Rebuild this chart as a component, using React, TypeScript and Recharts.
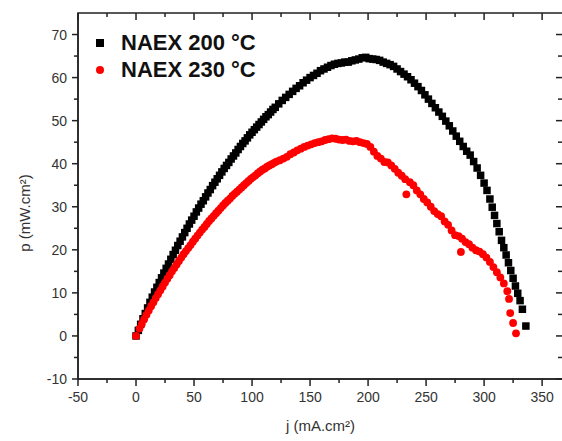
import { ReferenceArea, Scatter, ScatterChart, XAxis, YAxis } from "recharts";

// current density j (mA.cm-2) and power density p (mW.cm-2)
const jBlack = [
  0, 2, 4, 6, 8, 10, 12, 14, 16, 18,
  20, 22, 24, 26, 28, 30, 32, 34, 36, 38,
  40, 42, 44, 46, 48, 50, 52, 54, 56, 58,
  60, 62, 64, 66, 68, 70, 72, 74, 76, 78,
  80, 82, 84, 86, 88, 90, 92, 94, 96, 98,
  100, 102, 104, 106, 108, 110, 112, 114, 116, 118,
  120, 123, 126, 129, 132, 135, 138, 141, 144, 147,
  150, 153, 156, 159, 162, 165, 168, 171, 174, 177,
  180, 183, 186, 189, 192, 195, 198, 201, 204, 207,
  210, 213, 216, 219, 222, 225, 228, 231, 234, 237,
  240, 243, 246, 249, 252, 255, 258, 261, 264, 267,
  270, 273, 276, 279, 282, 285, 288, 291, 294, 297,
  300, 302.5, 305, 307, 309, 311, 313, 315, 317, 319,
  321, 323, 325, 327, 329, 331, 333, 336,
];
const pBlack = [
  0, 1.3, 2.7, 4, 5.2, 6.5, 7.8, 9, 10.2, 11.3,
  12.4, 13.5, 14.6, 15.7, 16.7, 17.8, 18.9, 19.9, 21, 22,
  23, 24, 25, 26, 26.9, 27.8, 28.8, 29.7, 30.6, 31.4,
  32.3, 33.2, 34, 34.9, 35.7, 36.5, 37.3, 38.1, 38.9, 39.6,
  40.3, 41.1, 41.8, 42.5, 43.3, 44, 44.7, 45.3, 46, 46.7,
  47.3, 47.9, 48.5, 49.1, 49.7, 50.3, 50.9, 51.4, 52, 52.6,
  53.1, 53.9, 54.7, 55.4, 56.1, 56.8, 57.5, 58.1, 58.8, 59.4,
  60, 60.5, 61, 61.6, 62, 62.4, 62.8, 63.1, 63.3, 63.4,
  63.6, 63.6, 63.9, 64.1, 64.3, 64.6, 64.7, 64.4, 64.3, 64.2,
  64, 63.6, 63.3, 63, 62.6, 62, 61.4, 60.8, 60.2, 59.5,
  58.7, 57.9, 57, 56, 55, 54, 53, 52, 51, 49.9,
  48.8, 47.6, 46.4, 45.2, 44, 42.9, 42, 40.5, 39, 37.3,
  35.5, 33.8, 31.8, 29.9, 28, 26.1, 24.2, 22.2, 20.5, 18.8,
  17, 15.2, 13.4, 11.6, 9.9, 8.2, 6.2, 2.3,
];

const jRed = [
  0, 3, 5, 7, 9, 11, 13, 15, 17, 19,
  21, 23, 25, 27, 29, 31, 33, 35, 37, 39,
  41, 43, 45, 47, 49, 51, 53, 55, 57, 59,
  61, 63, 65, 67, 69, 71, 73, 75, 77, 79,
  81, 83, 85, 87, 89, 91, 93, 95, 97, 99,
  101, 103, 105, 107, 109, 111, 113, 115, 117, 119,
  121, 124, 127, 130, 133, 136, 139, 142, 145, 148,
  151, 154, 157, 160, 163, 166, 169, 172, 175, 178,
  181, 184, 187, 190, 193, 196, 199, 202, 205, 208,
  211, 214, 217, 220, 223, 226, 229, 232, 233, 236,
  239, 242, 245, 248, 251, 254, 257, 260, 263, 266,
  269, 272, 275, 278, 280, 281, 284, 287, 290, 293,
  296, 299, 302, 305, 308, 311, 314, 317, 320, 321.5,
  322.5, 325, 327.5,
];
const pRed = [
  0, 1.7, 2.8, 3.9, 4.9, 5.9, 6.9, 7.8, 8.8, 9.7,
  10.6, 11.5, 12.4, 13.3, 14.1, 15, 15.8, 16.6, 17.4, 18.2,
  19, 19.7, 20.4, 21.1, 21.9, 22.6, 23.3, 24, 24.7, 25.3,
  26, 26.7, 27.3, 27.9, 28.5, 29.1, 29.7, 30.3, 30.9, 31.4,
  31.9, 32.5, 33, 33.5, 34, 34.5, 35, 35.5, 36, 36.5,
  36.9, 37.3, 37.8, 38.2, 38.6, 38.9, 39.3, 39.6, 39.9, 40.2,
  40.5, 40.8, 41.2, 41.6, 42.2, 42.6, 43.1, 43.5, 43.9, 44.2,
  44.5, 44.8, 45, 45.2, 45.5, 45.7, 45.9, 45.8, 45.6, 45.5,
  45.6, 45.3, 45.2, 45.3, 45, 44.8, 44.6, 43.9, 42.8, 41.8,
  41.2, 40.4, 40.3, 39.6, 38.8, 37.9, 37.2, 36.4, 32.9, 35.7,
  35, 33.8, 32.9, 31.8, 31, 30, 29, 28.3, 27.8, 26.6,
  25.8, 24.5, 23.4, 23.2, 19.5, 22.6, 21.8, 21.3, 20.5, 19.9,
  19.6, 19, 18.2, 17.2, 16, 14.8, 13.6, 12.2, 10.4, 8.6,
  5.3, 3, 0.6,
];

const seriesNames = ["NAEX 200 °C", "NAEX 230 °C"];
const xTicks = [-50, -25, 0, 25, 50, 75, 100, 125, 150, 175, 200, 225, 250, 275, 300, 325, 350];
const yTicks = [-10, -5, 0, 5, 10, 15, 20, 25, 30, 35, 40, 45, 50, 55, 60, 65, 70];

const blackData = jBlack.map((j, i) => ({ j, p: pBlack[i] }));
const redData = jRed.map((j, i) => ({ j, p: pRed[i] }));

const FONT = "'Liberation Sans', Arial, sans-serif";
// frame of the plot area (chart margins + axis sizes below)
const PLOT = { left: 78, right: 563, top: 13, bottom: 379 };

// bottom ticks point out, the mirrored top ones point in
const BottomTick = (props: any) => {
  const { x, payload } = props;
  const major = payload.value % 50 === 0;
  const len = major ? 7 : 4;
  return (
    <g>
      <line x1={x} x2={x} y1={PLOT.bottom} y2={PLOT.bottom + len} stroke="#222" strokeWidth={1.5} />
      <line x1={x} x2={x} y1={PLOT.top} y2={PLOT.top + len} stroke="#222" strokeWidth={1.5} />
      {major && (
        <text x={x} y={PLOT.bottom + 13} dy="0.71em" textAnchor="middle" fontSize={14} fill="#333" fontFamily={FONT}>
          {payload.value}
        </text>
      )}
    </g>
  );
};

const LeftTick = (props: any) => {
  const { y, payload } = props;
  const major = payload.value % 10 === 0;
  const len = major ? 6 : 4;
  return (
    <g>
      <line x1={PLOT.left - len} x2={PLOT.left} y1={y} y2={y} stroke="#222" strokeWidth={1.5} />
      <line x1={PLOT.right - len - 1} x2={PLOT.right} y1={y} y2={y} stroke="#222" strokeWidth={1.5} />
      {major && (
        <text x={PLOT.left - 11} y={y} dy="0.36em" textAnchor="end" fontSize={14} fill="#333" fontFamily={FONT}>
          {payload.value}
        </text>
      )}
    </g>
  );
};

const Square = (props: any) => (
  <rect x={props.cx - 3.75} y={props.cy - 3.75} width={7.5} height={7.5} fill="#000" />
);
const Dot = (props: any) => <circle cx={props.cx} cy={props.cy} r={3.9} fill="#ff0000" />;

export default function App() {
  return (
    <div style={{ position: "absolute", left: 0, top: 0, width: 562, height: 441, overflow: "hidden", background: "#fff" }}>
      <ScatterChart width={564} height={441} margin={{ top: 13, right: 1, bottom: 0, left: 0 }}>
        <XAxis
          dataKey="j"
          type="number"
          domain={[-50, 368]}
          ticks={xTicks}
          interval={0}
          height={62}
          tickLine={false}
          tick={(p: any) => <BottomTick {...p} />}
          axisLine={{ stroke: "#222", strokeWidth: 1.5 }}
        />
        <YAxis
          dataKey="p"
          type="number"
          domain={[-10, 75]}
          ticks={yTicks}
          interval={0}
          width={78}
          tickLine={false}
          tick={(p: any) => <LeftTick {...p} />}
          axisLine={{ stroke: "#222", strokeWidth: 1.5 }}
        />
        {/* box around the plot */}
        <ReferenceArea x1={-50} x2={368} y1={-10} y2={75} fill="none" stroke="#222" strokeWidth={1.5} />
        <Scatter name={seriesNames[0]} data={blackData} shape={<Square />} isAnimationActive={false} />
        <Scatter name={seriesNames[1]} data={redData} shape={<Dot />} isAnimationActive={false} />
      </ScatterChart>
      {/* axis titles */}
      <div
        style={{
          position: "absolute",
          left: 78,
          width: 485,
          top: 417,
          textAlign: "center",
          fontFamily: FONT,
          fontSize: 15,
          color: "#333",
        }}
      >
        j (mA.cm²)
      </div>
      <div
        style={{
          position: "absolute",
          left: 24,
          top: 213,
          transform: "translate(-50%, -50%) rotate(-90deg)",
          whiteSpace: "nowrap",
          fontFamily: FONT,
          fontSize: 15,
          color: "#333",
        }}
      >
        p (mW.cm²)
      </div>
      {/* legend */}
      <div
        style={{
          position: "absolute",
          left: 96,
          top: 29,
          fontFamily: FONT,
          fontWeight: 700,
          fontSize: 22,
          color: "#111",
          lineHeight: "26px",
        }}
      >
        <div style={{ display: "flex", alignItems: "center", height: 27 }}>
          <span style={{ display: "inline-block", width: 8, height: 8, background: "#000", marginRight: 17 }} />
          {seriesNames[0]}
        </div>
        <div style={{ display: "flex", alignItems: "center", height: 27 }}>
          <span
            style={{ display: "inline-block", width: 8, height: 8, borderRadius: 4, background: "#ff0000", marginRight: 17 }}
          />
          {seriesNames[1]}
        </div>
      </div>
    </div>
  );
}
